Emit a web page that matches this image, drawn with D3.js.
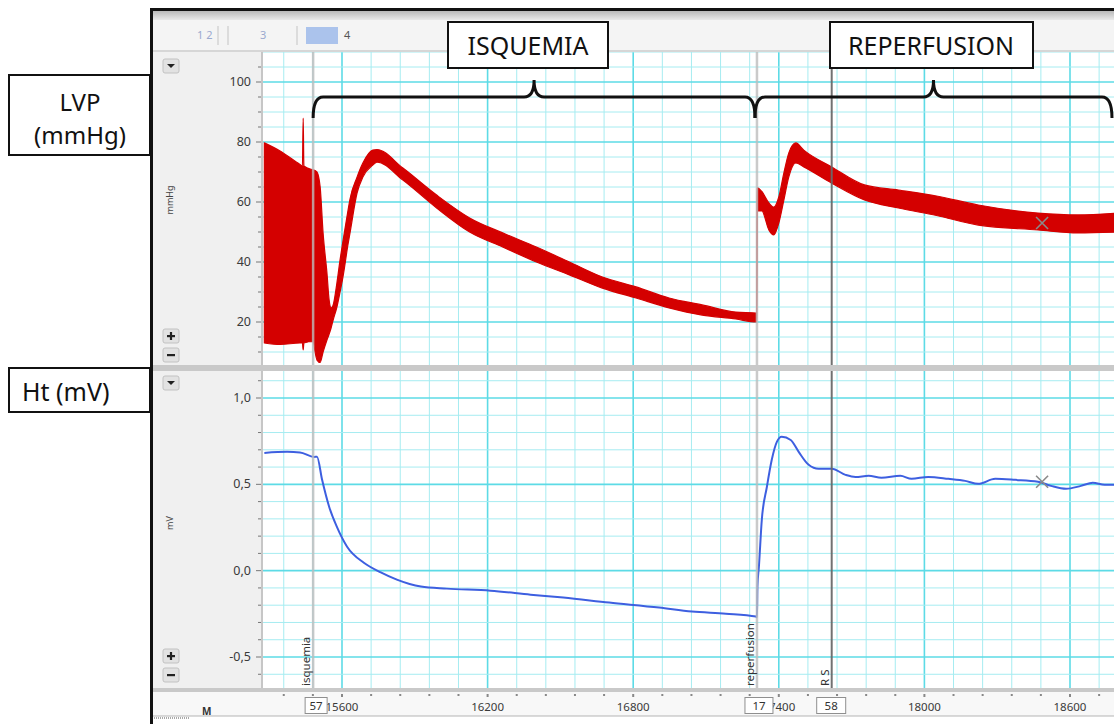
<!DOCTYPE html>
<html>
<head>
<meta charset="utf-8">
<script src="https://cdn.jsdelivr.net/npm/d3@7"></script>
<style>
  body { margin: 0; background: #fff; }
  text { font-family: "Noto Sans", sans-serif; }
</style>
</head>
<body>
<div id="canvas"></div>
<script>
// LVP trace : time (sample number) with the max / min envelope of the pressure band (mmHg)
var lvpTime = [15280, 15345, 15427, 15437, 15440, 15443, 15481, 15489, 15497, 15510, 15522, 15538, 15547, 15555,
  15563, 15579, 15592, 15604, 15625, 15633, 15662, 15686, 15727, 15744, 15851, 15990, 16126, 16262, 16401, 16537,
  16673, 16812, 16948, 17084, 17223, 17306, 17309, 17310, 17312, 17330, 17359, 17379, 17400, 17421, 17441, 17470,
  17503, 17618, 17753, 17893, 18050, 18222, 18468, 18633, 18798];
var lvpHigh = [79.7, 77, 72.5, 72, 88, 72, 70.7, 70.5, 70, 65, 49.7, 36.3, 27.3, 24.7,
  25.5, 33, 40.7, 47, 57.3, 61, 68.3, 73, 77.3, 77.5, 71.3, 62.3, 54.7, 49.7, 45, 40,
  35, 31.7, 28, 25.7, 23.3, 23, 22.8, 64.7, 64.7, 63.5, 59.7, 58.3, 61.7, 69.7, 76.3, 79.7,
  77.3, 71.7, 65.7, 64, 62, 59, 56.3, 55.7, 56.3];
var lvpLow = [13, 12.5, 13, 13, 10.7, 13, 13.5, 10, 7.3, 6.5, 10, 14, 16, 18,
  20.5, 25, 30, 35, 46, 49.7, 63, 68.3, 72.3, 73.3, 67.3, 58, 50, 45, 40, 35.7,
  31.3, 28, 24.7, 22.3, 21, 20, 20, 20, 57, 57, 50.7, 49, 53, 60.7, 68.3, 73,
  71.7, 66.3, 60.7, 58, 55.5, 52.3, 50.7, 49.7, 50];

// Ht trace (mV)
var htTime = [15280, 15374, 15427, 15485, 15497, 15518, 15547, 15579, 15621, 15690, 15760, 15826, 15925, 16032,
  16212, 16377, 16512, 16701, 16907, 17042, 17182, 17306, 17310, 17312, 17318, 17330, 17351, 17371, 17392, 17412,
  17449, 17482, 17523, 17564, 17618, 17675, 17716, 17770, 17823, 17901, 17947, 18016, 18099, 18168, 18222, 18292,
  18374, 18468, 18522, 18584, 18645, 18694, 18743, 18798];
var htValue = [0.682, 0.688, 0.685, 0.659, 0.66, 0.526, 0.37, 0.254, 0.139, 0.046, -0.01, -0.052, -0.092, -0.104,
  -0.116, -0.139, -0.156, -0.185, -0.214, -0.237, -0.249, -0.266, -0.27, -0.09, 0.023, 0.295, 0.486, 0.642, 0.746, 0.775,
  0.757, 0.688, 0.613, 0.59, 0.59, 0.555, 0.543, 0.549, 0.538, 0.549, 0.532, 0.543, 0.532, 0.52, 0.503, 0.532,
  0.526, 0.515, 0.491, 0.474, 0.491, 0.509, 0.497, 0.497];

var xTickLabels = [15600, 16200, 16800, 17400, 18000, 18600];
var lvpTickLabels = [20, 40, 60, 80, 100];
var htTickLabels = [-0.5, 0, 0.5, 1.0];

// event markers
var markerNames = ["isquemia", "reperfusion", "R S"];
var markerTimes = [15481, 17310, 17618];
var markerBoxes = ["57", "17", "58"];

// phases (braces)
var phaseNames = ["ISQUEMIA", "REPERFUSION"];
var phaseStart = [15481, 17302];
var phaseEnd = [17302, 18773];

// cursor cross
var crossTime = 18485, crossLvp = 53, crossHt = 0.515;

var W = 1114, H = 724;
var svg = d3.select("#canvas").append("svg").attr("width", W).attr("height", H);

var x = d3.scaleLinear().domain([15600, 18600]).range([342, 1070]);
var yL = d3.scaleLinear().domain([20, 100]).range([322, 82]);
var yH = d3.scaleLinear().domain([-0.5, 1.0]).range([657, 398]);

var pTop = {x: 263, y: 52, w: 851, h: 313};
var pBot = {x: 263, y: 371, w: 851, h: 317};

// ---- window chrome ----
svg.append("rect").attr("x", 150).attr("y", 8).attr("width", W - 150).attr("height", 708).attr("fill", "#f0f0f0");
var grad = svg.append("defs").append("linearGradient").attr("id", "bar").attr("x1", 0).attr("x2", 0).attr("y1", 0).attr("y2", 1);
grad.append("stop").attr("offset", "0").attr("stop-color", "#b9b9b9");
grad.append("stop").attr("offset", "1").attr("stop-color", "#e9e9e9");
svg.append("rect").attr("x", 153).attr("y", 11).attr("width", W - 153).attr("height", 9).attr("fill", "url(#bar)");
svg.append("rect").attr("x", 153).attr("y", 20).attr("width", W - 153).attr("height", 30).attr("fill", "#f4f4f4");
svg.append("rect").attr("x", 153).attr("y", 50).attr("width", W - 153).attr("height", 2).attr("fill", "#d6d6d6");

svg.append("text").attr("x", 197).attr("y", 39).attr("font-size", 11).attr("fill", "#9aa9cf").text("1 2");
[218, 228, 297].forEach(function(px) {
  svg.append("line").attr("x1", px).attr("x2", px).attr("y1", 26).attr("y2", 45).attr("stroke", "#c4c4c4");
});
svg.append("text").attr("x", 260).attr("y", 39).attr("font-size", 11).attr("fill", "#9aa9cf").text("3");
svg.append("rect").attr("x", 306).attr("y", 27).attr("width", 32).attr("height", 17).attr("fill", "#abc3ec");
svg.append("text").attr("x", 344).attr("y", 39).attr("font-size", 11).attr("fill", "#555").text("4");

// separators
svg.append("rect").attr("x", 153).attr("y", 365).attr("width", W - 153).attr("height", 6).attr("fill", "#c9c9c9");
svg.append("rect").attr("x", 153).attr("y", 688).attr("width", W - 153).attr("height", 4).attr("fill", "#c9c9c9");
svg.append("rect").attr("x", 153).attr("y", 692).attr("width", W - 153).attr("height", 24).attr("fill", "#f8f8f8");
svg.append("line").attr("x1", 153).attr("x2", W).attr("y1", 716).attr("y2", 716).attr("stroke", "#b5b5b5");
svg.append("text").attr("x", 202).attr("y", 715).attr("font-size", 10).attr("font-weight", "bold").attr("fill", "#333").text("M");
svg.append("line").attr("x1", 150).attr("x2", 190).attr("y1", 718).attr("y2", 718).attr("stroke", "#555").attr("stroke-dasharray", "1,1");

// frame
svg.append("rect").attr("x", 150).attr("y", 8).attr("width", W - 150).attr("height", 3).attr("fill", "#111");

// ---- panels ----
function panel(p, id, yScale, gridVals, majorTest) {
  svg.append("clipPath").attr("id", id).append("rect")
    .attr("x", p.x).attr("y", p.y).attr("width", p.w).attr("height", p.h);
  svg.append("rect").attr("x", p.x).attr("y", p.y).attr("width", p.w).attr("height", p.h).attr("fill", "#fff");
  var g = svg.append("g").attr("clip-path", "url(#" + id + ")");
  var vx = d3.range(15240, 18900, 120);
  g.selectAll(".vg").data(vx).enter().append("line")
    .attr("x1", function(d) { return x(d); }).attr("x2", function(d) { return x(d); })
    .attr("y1", p.y).attr("y2", p.y + p.h)
    .attr("stroke", function(d) { return (d - 15600) % 600 === 0 ? "#5ddbe6" : "#a6ecf1"; })
    .attr("stroke-width", function(d) { return (d - 15600) % 600 === 0 ? 1.6 : 1; });
  g.selectAll(".hg").data(gridVals).enter().append("line")
    .attr("x1", p.x).attr("x2", p.x + p.w)
    .attr("y1", function(d) { return yScale(d); }).attr("y2", function(d) { return yScale(d); })
    .attr("stroke", function(d) { return majorTest(d) ? "#5ddbe6" : "#a6ecf1"; })
    .attr("stroke-width", function(d) { return majorTest(d) ? 1.6 : 1; });
  // left edge
  svg.append("line").attr("x1", p.x - 1).attr("x2", p.x - 1).attr("y1", p.y).attr("y2", p.y + p.h)
    .attr("stroke", "#c6c6c6").attr("stroke-width", 2);
  // y ticks
  svg.selectAll(null).data(gridVals.filter(function(d) { return yScale(d) > p.y + 2 && yScale(d) < p.y + p.h - 2; }))
    .enter().append("line")
    .attr("x1", function(d) { return majorTest(d) ? 256 : 258; }).attr("x2", 261)
    .attr("y1", function(d) { return yScale(d); }).attr("y2", function(d) { return yScale(d); })
    .attr("stroke", "#777");
  return g;
}

var lvpGrid = d3.range(5, 111, 5);
var htGrid = d3.range(-7, 12).map(function(k) { return k / 10; });
var gTop = panel(pTop, "clipTop", yL, lvpGrid, function(d) { return d % 20 === 0; });
var gBot = panel(pBot, "clipBot", yH, htGrid, function(d) { return Math.abs(d * 2 - Math.round(d * 2)) < 1e-6; });

svg.selectAll(".ly").data(lvpTickLabels).enter().append("text")
  .attr("x", 251).attr("y", function(d) { return yL(d) + 4; })
  .attr("text-anchor", "end").attr("font-size", 12.5).attr("fill", "#3a3a3a").text(function(d) { return d; });
svg.selectAll(".hy").data(htTickLabels).enter().append("text")
  .attr("x", 251).attr("y", function(d) { return yH(d) + 4; })
  .attr("text-anchor", "end").attr("font-size", 12.5).attr("fill", "#3a3a3a")
  .text(function(d) { return d3.format(".1f")(d).replace(".", ",").replace("−", "-"); });

svg.append("text").attr("transform", "translate(173,200) rotate(-90)").attr("text-anchor", "middle")
  .attr("font-size", 9).attr("fill", "#444").text("mmHg");
svg.append("text").attr("transform", "translate(173,523) rotate(-90)").attr("text-anchor", "middle")
  .attr("font-size", 9).attr("fill", "#444").text("mV");

// small buttons
function button(bx, by, kind) {
  svg.append("rect").attr("x", bx).attr("y", by).attr("width", 16).attr("height", 14).attr("rx", 2)
    .attr("fill", "#e2e2e2").attr("stroke", "#c2c2c2");
  if (kind === "down") {
    svg.append("path").attr("d", "M" + (bx + 4) + "," + (by + 5) + "h8l-4,4z").attr("fill", "#222");
  } else {
    svg.append("rect").attr("x", bx + 4).attr("y", by + 6).attr("width", 8).attr("height", 2.2).attr("fill", "#222");
    if (kind === "plus") svg.append("rect").attr("x", bx + 6.9).attr("y", by + 3).attr("width", 2.2).attr("height", 8).attr("fill", "#222");
  }
}
button(163, 59, "down"); button(163, 329, "plus"); button(163, 348, "minus");
button(163, 376, "down"); button(163, 649, "plus"); button(163, 668, "minus");

// ---- data ----
var lvpData = lvpTime.map(function(t, i) { return {t: t, hi: lvpHigh[i], lo: lvpLow[i]}; });
var area = d3.area().curve(d3.curveMonotoneX).x(function(d) { return x(d.t); })
  .y0(function(d) { return yL(d.lo); }).y1(function(d) { return yL(d.hi); });
gTop.append("path").datum(lvpData).attr("d", area)
  .attr("fill", "#d40000").attr("stroke", "#d40000").attr("stroke-width", 1.2).attr("stroke-linejoin", "round");

var htData = htTime.map(function(t, i) { return {t: t, v: htValue[i]}; });
var line = d3.line().curve(d3.curveMonotoneX).x(function(d) { return x(d.t); }).y(function(d) { return yH(d.v); });
gBot.append("path").datum(htData).attr("d", line)
  .attr("fill", "none").attr("stroke", "#3d5fe0").attr("stroke-width", 2).attr("stroke-linejoin", "round");

// ---- markers ----
markerTimes.forEach(function(t, i) {
  var dark = markerNames[i] === "R S";
  [pTop, pBot].forEach(function(p) {
    svg.append("line").attr("x1", x(t)).attr("x2", x(t)).attr("y1", p.y).attr("y2", p.y + p.h)
      .attr("stroke", dark ? "#6a6a6a" : "#bdbdbd").attr("stroke-width", dark ? 2 : 2.5)
      .attr("opacity", dark ? 0.95 : 0.8);
  });
  svg.append("text").attr("transform", "translate(" + (x(t) - 3) + ",686) rotate(-90)")
    .attr("font-size", 11.5).attr("fill", "#333").text(markerNames[i]);
});

// cursor crosses
function cross(cx, cy) {
  svg.append("path").attr("d", "M" + (cx - 6) + "," + (cy - 6) + "L" + (cx + 6) + "," + (cy + 6) +
    "M" + (cx - 6) + "," + (cy + 6) + "L" + (cx + 6) + "," + (cy - 6))
    .attr("stroke", "#8a8a8a").attr("stroke-width", 1.6);
}
cross(x(crossTime), yL(crossLvp));
cross(x(crossTime), yH(crossHt));

// ---- x axis ----
var xt = d3.range(15240, 18900, 120).filter(function(d) { return x(d) > 265 && x(d) < W; });
svg.selectAll(".xt").data(xt).enter().append("rect")
  .attr("x", function(d) { return x(d) - 1; }).attr("y", 694)
  .attr("width", 2).attr("height", function(d) { return (d - 15600) % 600 === 0 ? 3 : 2; })
  .attr("fill", "#888");
svg.selectAll(".xl").data(xTickLabels).enter().append("text")
  .attr("x", function(d) { return x(d); }).attr("y", 711).attr("text-anchor", "middle")
  .attr("font-size", 11.5).attr("fill", "#3a3a3a").text(function(d) { return d; });
// the event boxes cover part of the tick labels, as in the viewer
var boxLeft = [-8, -12, -15], boxWidth = [22, 28, 29];
markerTimes.forEach(function(t, i) {
  var bx = x(t) + boxLeft[i];
  svg.append("rect").attr("x", bx).attr("y", 697.5).attr("width", boxWidth[i]).attr("height", 16)
    .attr("fill", "#fff").attr("stroke", "#8f8f8f");
  svg.append("text").attr("x", bx + boxWidth[i] / 2).attr("y", 710).attr("text-anchor", "middle")
    .attr("font-size", 11.5).attr("fill", "#333").text(markerBoxes[i]);
});

// ---- annotations ----
function brace(x0, x1) {
  var xm = (x0 + x1) / 2, yt = 118, yb = 97, yp = 80;
  var d = "M" + x0 + "," + yt + " Q" + x0 + "," + yb + " " + (x0 + 10) + "," + yb +
    " L" + (xm - 10) + "," + yb + " Q" + xm + "," + yb + " " + xm + "," + yp +
    " Q" + xm + "," + yb + " " + (xm + 10) + "," + yb +
    " L" + (x1 - 10) + "," + yb + " Q" + x1 + "," + yb + " " + x1 + "," + yt;
  svg.append("path").attr("d", d).attr("fill", "none").attr("stroke", "#111").attr("stroke-width", 3);
}
phaseStart.forEach(function(t, i) { brace(x(t), x(phaseEnd[i])); });

function labelBox(bx, by, bw, bh) {
  svg.append("rect").attr("x", bx).attr("y", by).attr("width", bw).attr("height", bh)
    .attr("fill", "#fff").attr("stroke", "#111").attr("stroke-width", 2);
}
labelBox(448, 22, 160, 46);
svg.append("text").attr("x", 528).attr("y", 55).attr("text-anchor", "middle")
  .attr("font-family", "Lato").attr("font-size", 25).attr("fill", "#111").text(phaseNames[0]);
labelBox(830, 22, 203, 46);
svg.append("text").attr("x", 931).attr("y", 55).attr("text-anchor", "middle")
  .attr("font-family", "Lato").attr("font-size", 25).attr("fill", "#111").text(phaseNames[1]);

labelBox(9, 75, 141, 80);
svg.append("text").attr("x", 80).attr("y", 111).attr("text-anchor", "middle")
  .attr("font-family", "Lato").attr("font-size", 24).attr("fill", "#111").text("LVP");
svg.append("text").attr("x", 80).attr("y", 144).attr("text-anchor", "middle")
  .attr("font-family", "Lato").attr("font-size", 24).attr("fill", "#111").text("(mmHg)");
labelBox(9, 368, 141, 44);
svg.append("text").attr("x", 22).attr("y", 401)
  .attr("font-family", "Lato").attr("font-size", 25).attr("fill", "#111").text("Ht (mV)");
// frame edge over the label boxes
svg.append("rect").attr("x", 150).attr("y", 8).attr("width", 3).attr("height", H - 8).attr("fill", "#111");
</script>
</body>
</html>
